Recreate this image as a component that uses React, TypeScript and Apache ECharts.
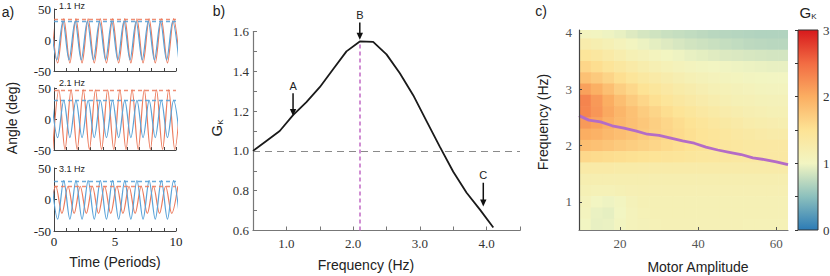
import { useEffect, useRef } from 'react';
import * as echarts from 'echarts';

const SERIF = "'Liberation Serif', 'Times New Roman', serif";
const SANS = "'Liberation Sans', Arial, sans-serif";
const RED = '#ec7b5d';
const BLUE = '#5aa3d8';

// ---------- Panel a: peaks / troughs of each trace, [time (periods), angle (deg)]
const a1Red = [[-0.2, 34], [0.3, -37], [0.8, 34], [1.3, -37], [1.8, 34], [2.3, -37], [2.8, 34], [3.3, -37], [3.8, 34], [4.3, -37], [4.8, 34], [5.3, -37], [5.8, 34], [6.3, -37], [6.8, 34], [7.3, -37], [7.8, 34], [8.3, -37], [8.8, 34], [9.3, -37], [9.8, 34], [10.3, -37]];
const a1Blue = [[-0.27, 30], [0.23, -32], [0.73, 30], [1.23, -32], [1.73, 30], [2.23, -32], [2.73, 30], [3.23, -32], [3.73, 30], [4.23, -32], [4.73, 30], [5.23, -32], [5.73, 30], [6.23, -32], [6.73, 30], [7.23, -32], [7.73, 30], [8.23, -32], [8.73, 30], [9.23, -32], [9.73, 30], [10.23, -32]];
const a2Red = [[-0.1, -49], [0.4, 47], [0.9, -49], [1.4, 47], [1.9, -49], [2.4, 47], [2.9, -49], [3.4, 47], [3.9, -49], [4.4, 47], [4.9, -49], [5.4, 47], [5.9, -49], [6.4, 47], [6.9, -49], [7.4, 47], [7.9, -49], [8.4, 47], [8.9, -49], [9.4, 47], [9.9, -49], [10.4, 47]];
const a2Blue = [[-0.2, 30], [0.3, -30], [0.8, 30], [1.3, -30], [1.8, 30], [2.3, -30], [2.8, 30], [3.3, -30], [3.8, 30], [4.3, -30], [4.8, 30], [5.3, -30], [5.8, 30], [6.3, -30], [6.8, 30], [7.3, -30], [7.8, 30], [8.3, -30], [8.8, 30], [9.3, -30], [9.8, 30], [10.3, -30]];
const a3Red = [[-0.35, -22], [0.15, 21], [0.65, -22], [1.15, 21], [1.65, -22], [2.15, 21], [2.65, -22], [3.15, 21], [3.65, -22], [4.15, 21], [4.65, -22], [5.15, 21], [5.65, -22], [6.15, 21], [6.65, -22], [7.15, 21], [7.65, -22], [8.15, 21], [8.65, -22], [9.15, 21], [9.65, -22], [10.15, 21]];
const a3Blue = [[-0.2, 30], [0.3, -31], [0.8, 30], [1.3, -31], [1.8, 30], [2.3, -31], [2.8, 30], [3.3, -31], [3.8, 30], [4.3, -31], [4.8, 30], [5.3, -31], [5.8, 30], [6.3, -31], [6.8, 30], [7.3, -31], [7.8, 30], [8.3, -31], [8.8, 30], [9.3, -31], [9.8, 30], [10.3, -31]];
const redTraces = [a1Red, a2Red, a3Red];
const blueTraces = [a1Blue, a2Blue, a3Blue];
const redLevels = [34, 47, 21];
const blueLevels = [30, 30, 29];
const subTitles = ['1.1 Hz', '2.1 Hz', '3.1 Hz'];

// ---------- Panel b: gain vs frequency
const freqB = [0.5, 0.7, 0.9, 1.1, 1.3, 1.5, 1.7, 1.9, 2.1, 2.3, 2.5, 2.7, 2.9, 3.1, 3.3, 3.5, 3.7, 3.9, 4.1];
const gainB = [1.0, 1.05, 1.1, 1.18, 1.245, 1.32, 1.41, 1.5, 1.55, 1.548, 1.485, 1.39, 1.28, 1.15, 1.02, 0.895, 0.79, 0.705, 0.615];
const unityGain = 1.0;
const peakFreq = 2.1;
const peakGain = 1.55;
const arrowLabels = ['A', 'B', 'C'];
const arrowFreqs = [1.1, 2.1, 3.95];
const arrowTops = [1.29, 1.645, 0.84];
const arrowTips = [1.175, 1.558, 0.72];

// ---------- Panel c: gain map (motor amplitude x frequency)
const ampCells = [11, 14, 17, 20, 23, 26, 29, 32, 35, 38, 41, 44, 47, 50, 53, 56, 59, 62];
const freqCells = [4.0, 3.8, 3.6, 3.4, 3.2, 3.0, 2.8, 2.6, 2.4, 2.2, 2.0, 1.8, 1.6, 1.4, 1.2, 1.0, 0.8, 0.6];
const heatRows = [
  [1.05, 1.02, 0.98, 0.95, 0.9, 0.86, 0.83, 0.8, 0.78, 0.76, 0.74, 0.72, 0.71, 0.7, 0.69, 0.68, 0.68, 0.68],
  [1.25, 1.2, 1.14, 1.08, 1.02, 0.97, 0.93, 0.9, 0.87, 0.84, 0.82, 0.8, 0.78, 0.76, 0.74, 0.73, 0.72, 0.72],
  [1.45, 1.38, 1.3, 1.22, 1.15, 1.1, 1.05, 1.01, 0.98, 0.95, 0.93, 0.91, 0.89, 0.88, 0.87, 0.86, 0.85, 0.85],
  [1.62, 1.55, 1.46, 1.38, 1.3, 1.23, 1.17, 1.12, 1.08, 1.05, 1.02, 1.0, 0.99, 0.98, 0.97, 0.96, 0.95, 0.95],
  [1.82, 1.74, 1.64, 1.54, 1.45, 1.37, 1.3, 1.24, 1.19, 1.15, 1.11, 1.08, 1.06, 1.04, 1.02, 1.01, 1.0, 1.0],
  [2.1, 1.98, 1.84, 1.7, 1.6, 1.5, 1.42, 1.35, 1.29, 1.24, 1.19, 1.15, 1.12, 1.1, 1.08, 1.06, 1.05, 1.05],
  [2.32, 2.16, 2.0, 1.85, 1.73, 1.62, 1.53, 1.45, 1.38, 1.32, 1.27, 1.22, 1.18, 1.15, 1.13, 1.11, 1.1, 1.1],
  [2.3, 2.18, 2.04, 1.92, 1.82, 1.72, 1.63, 1.55, 1.48, 1.42, 1.36, 1.31, 1.26, 1.22, 1.19, 1.17, 1.15, 1.15],
  [2.15, 2.08, 1.98, 1.9, 1.83, 1.76, 1.69, 1.62, 1.56, 1.5, 1.44, 1.39, 1.34, 1.3, 1.26, 1.23, 1.21, 1.2],
  [2.0, 1.96, 1.9, 1.85, 1.8, 1.74, 1.68, 1.63, 1.58, 1.53, 1.48, 1.44, 1.4, 1.36, 1.33, 1.3, 1.28, 1.28],
  [1.85, 1.82, 1.78, 1.74, 1.7, 1.66, 1.62, 1.58, 1.54, 1.5, 1.47, 1.44, 1.41, 1.39, 1.37, 1.36, 1.35, 1.35],
  [1.6, 1.58, 1.56, 1.54, 1.52, 1.5, 1.48, 1.46, 1.44, 1.42, 1.4, 1.39, 1.38, 1.37, 1.36, 1.35, 1.35, 1.35],
  [1.3, 1.3, 1.3, 1.29, 1.29, 1.28, 1.28, 1.28, 1.28, 1.28, 1.28, 1.28, 1.28, 1.28, 1.28, 1.28, 1.28, 1.28],
  [1.2, 1.2, 1.2, 1.2, 1.2, 1.2, 1.2, 1.2, 1.2, 1.2, 1.2, 1.2, 1.2, 1.2, 1.2, 1.2, 1.2, 1.2],
  [1.15, 1.12, 1.12, 1.14, 1.16, 1.17, 1.17, 1.17, 1.17, 1.17, 1.17, 1.17, 1.17, 1.17, 1.17, 1.17, 1.17, 1.17],
  [1.08, 1.0, 0.98, 1.02, 1.1, 1.14, 1.15, 1.15, 1.15, 1.15, 1.15, 1.15, 1.15, 1.15, 1.15, 1.15, 1.15, 1.15],
  [1.05, 0.96, 0.94, 1.0, 1.08, 1.12, 1.14, 1.15, 1.15, 1.15, 1.15, 1.15, 1.15, 1.15, 1.15, 1.15, 1.15, 1.15],
  [1.0, 0.95, 0.96, 1.02, 1.08, 1.1, 1.12, 1.13, 1.13, 1.13, 1.13, 1.13, 1.13, 1.13, 1.12, 1.12, 1.12, 1.12],
];
const ridgeAmp = [9.5, 12, 15, 18, 21, 24, 27, 30, 33, 36, 39, 42, 45, 48, 51, 54, 57, 60, 63];
const ridgeFreq = [2.53, 2.45, 2.42, 2.35, 2.31, 2.26, 2.2, 2.18, 2.13, 2.08, 2.04, 1.97, 1.92, 1.88, 1.84, 1.78, 1.75, 1.71, 1.66];
const ampTicks = [20, 40, 60];
const freqTicks = [1, 2, 3, 4];
const gkStops = [0, 0.5, 1, 1.5, 2, 2.5, 3];
const gkColors = ['#2c7bb6', '#8cc0bd', '#f2f5c2', '#fde395', '#fbae62', '#f26c43', '#d7191c'];

const CELL_W = 3;
const CELL_H = 0.2;

function buildOption(): any {
  const grids = [
    { left: 54, top: 9, width: 122, height: 62 },
    { left: 54, top: 88, width: 122, height: 62 },
    { left: 54, top: 168, width: 122, height: 63 },
    { left: 253, top: 31.5, width: 267, height: 199 },
    { left: 579, top: 30, width: 209, height: 200 },
    { left: 798, top: 30, width: 20, height: 200 },
  ].map((g) => ({ ...g, containLabel: false, outerBoundsMode: 'none' }));

  const xAxes: any[] = [];
  const yAxes: any[] = [];
  for (let i = 0; i < 3; i++) {
    xAxes.push({
      type: 'value', gridIndex: i, min: 0, max: 10, interval: 1,
      axisLine: { onZero: false, lineStyle: { color: '#444', width: 1 } },
      axisTick: { inside: true, length: 3, lineStyle: { color: '#444' } },
      axisLabel: {
        show: i === 2, margin: 4, fontFamily: SERIF, fontSize: 13, color: '#222',
        formatter: (v: number) => (Math.round(v) % 5 === 0 ? String(Math.round(v)) : ''),
      },
      splitLine: { show: false },
    });
    yAxes.push({
      type: 'value', gridIndex: i, min: -50, max: 50, interval: 50,
      axisLine: { show: true, onZero: false, lineStyle: { color: '#444', width: 1 } },
      axisTick: { show: true, inside: true, length: 3, lineStyle: { color: '#444' } },
      axisLabel: { margin: 3, fontFamily: SERIF, fontSize: 13, color: '#222' },
      splitLine: { show: false },
    });
  }
  // panel b
  xAxes.push({
    type: 'value', gridIndex: 3, min: 0.5, max: 4.5, interval: 0.5,
    axisLine: { onZero: false, lineStyle: { color: '#777', width: 1.2 } },
    axisTick: { inside: true, length: 4, lineStyle: { color: '#777' } },
    axisLabel: {
      margin: 6, fontFamily: SERIF, fontSize: 13, color: '#333',
      formatter: (v: number) => (Math.abs(v - Math.round(v)) < 1e-6 ? v.toFixed(1) : ''),
    },
    splitLine: { show: false },
  });
  yAxes.push({
    type: 'value', gridIndex: 3, min: 0.6, max: 1.6, interval: 0.1,
    axisLine: { show: true, onZero: false, lineStyle: { color: '#777', width: 1.2 } },
    axisTick: { show: true, inside: true, length: 4, lineStyle: { color: '#777' } },
    axisLabel: {
      margin: 4, fontFamily: SERIF, fontSize: 13, color: '#333',
      formatter: (v: number) => {
        const k = Math.round(v * 10);
        return k % 2 === 0 ? (k / 10).toFixed(1) : '';
      },
    },
    splitLine: { show: false },
  });
  // panel c
  xAxes.push({
    type: 'value', gridIndex: 4, min: 9.5, max: 63, z: 10,
    axisLine: { onZero: false, lineStyle: { color: '#777', width: 1.2 } },
    axisTick: { inside: true, length: 3, customValues: ampTicks, lineStyle: { color: '#555' } },
    axisLabel: { margin: 7, customValues: ampTicks, fontFamily: SERIF, fontSize: 13, color: '#555' },
    splitLine: { show: false },
  });
  yAxes.push({
    type: 'value', gridIndex: 4, min: 0.5, max: 4.05, z: 10,
    axisLine: { show: true, onZero: false, lineStyle: { color: '#444', width: 1.2 } },
    axisTick: { show: true, inside: true, length: 3, customValues: freqTicks, lineStyle: { color: '#444' } },
    axisLabel: { margin: 7, customValues: freqTicks, fontFamily: SERIF, fontSize: 13, color: '#555' },
    splitLine: { show: false },
  });
  // colorbar
  xAxes.push({ type: 'value', gridIndex: 5, min: 0, max: 1, show: false });
  yAxes.push({
    type: 'value', gridIndex: 5, min: 0, max: 3, interval: 0.5, position: 'right', z: 10,
    axisLine: { show: false },
    axisTick: { show: true, inside: true, length: 3, lineStyle: { color: '#333' } },
    axisLabel: {
      margin: 5, fontFamily: SERIF, fontSize: 13, color: '#333',
      formatter: (v: number) => (Math.abs(v - Math.round(v)) < 1e-6 ? String(Math.round(v)) : ''),
    },
    splitLine: { show: false },
  });

  const series: any[] = [];
  for (let i = 0; i < 3; i++) {
    series.push({
      type: 'line', xAxisIndex: i, yAxisIndex: i, data: redTraces[i], smooth: 0.33,
      symbol: 'none', lineStyle: { color: RED, width: 1.2 }, z: 2,
      markLine: {
        silent: true, symbol: ['none', 'none'], label: { show: false },
        lineStyle: { color: RED, type: [4, 3], width: 1.3, opacity: 0.85 },
        data: [{ yAxis: redLevels[i] }],
      },
    });
    series.push({
      type: 'line', xAxisIndex: i, yAxisIndex: i, data: blueTraces[i], smooth: 0.33,
      symbol: 'none', lineStyle: { color: BLUE, width: 1.2 }, z: 3,
      markLine: {
        silent: true, symbol: ['none', 'none'], label: { show: false },
        lineStyle: { color: BLUE, type: [4, 3], width: 1.3, opacity: 0.9 },
        data: [{ yAxis: blueLevels[i] }],
      },
    });
  }
  const purpleDash = { color: '#c572c8', type: [4, 3], width: 1.6 };
  series.push({
    type: 'line', xAxisIndex: 3, yAxisIndex: 3,
    data: freqB.map((f, i) => [f, gainB[i]]),
    symbol: 'none', lineStyle: { color: '#1a1a1a', width: 1.8 }, z: 5,
    markLine: {
      silent: true, symbol: ['none', 'none'], label: { show: false },
      data: [
        { yAxis: unityGain, lineStyle: { color: '#8a8a8a', type: [7, 5], width: 1.1 } },
        [
          { coord: [peakFreq, 0.6], lineStyle: purpleDash },
          { coord: [peakFreq, peakGain], lineStyle: purpleDash },
        ],
      ],
    },
  });
  const heatData: number[][] = [];
  freqCells.forEach((f, r) => ampCells.forEach((a, c) => heatData.push([a, f, heatRows[r][c]])));
  series.push({
    type: 'custom', xAxisIndex: 4, yAxisIndex: 4, clip: true, z: 1,
    data: heatData,
    encode: { x: 0, y: 1 },
    renderItem: (_p: any, api: any) => {
      const a = api.value(0);
      const f = api.value(1);
      const p0 = api.coord([a - CELL_W / 2, f + CELL_H / 2]);
      const p1 = api.coord([a + CELL_W / 2, f - CELL_H / 2]);
      return {
        type: 'rect',
        shape: { x: p0[0], y: p0[1], width: p1[0] - p0[0] + 0.6, height: p1[1] - p0[1] + 0.6 },
        style: { fill: api.visual('color'), stroke: null },
      };
    },
  });
  series.push({
    type: 'line', xAxisIndex: 4, yAxisIndex: 4,
    data: ridgeAmp.map((a, i) => [a, ridgeFreq[i]]),
    symbol: 'none', lineStyle: { color: '#b46cc6', width: 2.8 }, z: 6,
  });
  series.push({
    type: 'custom', xAxisIndex: 5, yAxisIndex: 5, z: 1,
    data: [[0, 0]],
    renderItem: (_p: any, api: any) => {
      const p0 = api.coord([0, 3]);
      const p1 = api.coord([1, 0]);
      return {
        type: 'rect',
        shape: { x: p0[0], y: p0[1], width: p1[0] - p0[0], height: p1[1] - p0[1] },
        style: {
          fill: new echarts.graphic.LinearGradient(0, 1, 0, 0,
            gkStops.map((v, i) => ({ offset: v / 3, color: gkColors[i] }))),
          stroke: '#333', lineWidth: 1,
        },
      };
    },
  });

  return {
    animation: false,
    backgroundColor: '#ffffff',
    grid: grids,
    xAxis: xAxes,
    yAxis: yAxes,
    visualMap: {
      type: 'continuous', show: false, min: 0, max: 3, dimension: 2, seriesIndex: 7,
      inRange: { color: gkColors },
    },
    series,
  };
}

function txt(text: string, x: number, y: number, size: number, opts: any = {}) {
  return {
    type: 'text', x, y, z: 100, rotation: opts.rotation || 0,
    style: {
      text, fontSize: size, fontFamily: opts.family || SANS, fill: opts.fill || '#222',
      align: opts.align || 'center', verticalAlign: opts.valign || 'middle',
    },
  };
}

function gk(x: number, y: number, rotation: number) {
  return {
    type: 'text', x, y, z: 100, rotation,
    style: {
      text: '{g|G}{k|K}', align: 'center', verticalAlign: 'middle',
      rich: {
        g: { fontSize: 15, fontFamily: SANS, fill: '#222' },
        k: { fontSize: 8, fontFamily: SANS, fill: '#222', padding: [9, 0, 0, 0] },
      },
    },
  };
}

function buildGraphics(chart: any) {
  const els: any[] = [
    txt('a)', 8, 12, 14),
    txt('b)', 219, 11, 14),
    txt('c)', 541, 11, 14),
    txt('Angle (deg)', 12, 118, 14, { rotation: Math.PI / 2 }),
    txt('Time (Periods)', 115, 262, 14),
    txt('Frequency (Hz)', 366, 265, 14),
    txt('Frequency (Hz)', 543, 122, 14, { rotation: Math.PI / 2 }),
    txt('Motor Amplitude', 698, 267, 14),
    gk(216, 128, Math.PI / 2),
    gk(808, 12, 0),
  ];
  const titleY = [5.5, 83, 168.5];
  subTitles.forEach((t, i) => els.push(txt(t, 59, titleY[i], 9, { align: 'left' })));
  arrowLabels.forEach((lab, i) => {
    const top = chart.convertToPixel({ gridIndex: 3 }, [arrowFreqs[i], arrowTops[i]]);
    const tip = chart.convertToPixel({ gridIndex: 3 }, [arrowFreqs[i], arrowTips[i]]);
    const x = top[0];
    els.push({
      type: 'line', z: 100,
      shape: { x1: x, y1: top[1], x2: x, y2: tip[1] - 5 },
      style: { stroke: '#111', lineWidth: 1.5 },
    });
    els.push({
      type: 'polygon', z: 100,
      shape: { points: [[x, tip[1]], [x - 3.2, tip[1] - 7], [x + 3.2, tip[1] - 7]] },
      style: { fill: '#111' },
    });
    els.push(txt(lab, x, top[1] - 2, 11, { valign: 'bottom' }));
  });
  return els;
}

export default function App() {
  const ref = useRef<HTMLDivElement>(null);
  useEffect(() => {
    if (!ref.current) return;
    const chart = echarts.init(ref.current, undefined, { renderer: 'svg' });
    chart.setOption(buildOption());
    chart.setOption({ graphic: { elements: buildGraphics(chart) } });
    return () => chart.dispose();
  }, []);
  return (
    <div
      ref={ref}
      style={{ position: 'fixed', left: 0, top: 0, width: 830, height: 276, background: '#fff' }}
    />
  );
}
